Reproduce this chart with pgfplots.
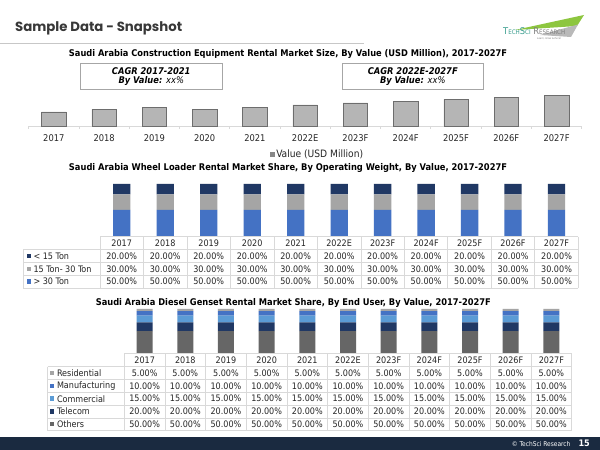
\documentclass[border=0pt]{standalone}
\usepackage{pgfplots}
\pgfplotsset{compat=1.18}
\usepackage{fontspec}
\setmainfont{DejaVu Sans Condensed}
\newfontfamily\poppins{Poppins}
\definecolor{navy}{HTML}{203864}
\definecolor{mblue}{HTML}{4472C4}
\definecolor{lblue}{HTML}{5B9BD5}
\definecolor{mgray}{HTML}{A5A5A5}
\definecolor{dgray}{HTML}{666666}
\definecolor{foot}{HTML}{1A2A40}
\definecolor{gridc}{HTML}{D9D9D9}
\definecolor{txt}{HTML}{262626}
\definecolor{bargray}{HTML}{B5B5B5}
\definecolor{logogreen}{HTML}{8DC63F}
\definecolor{logoteal}{HTML}{3A9E8F}
\newcommand{\tf}{\fontsize{9}{10}\selectfont}
\begin{document}
\begin{tikzpicture}[font=\tf]
\useasboundingbox (0,0) rectangle (600bp,450bp);
\fill[white] (0,0) rectangle (600bp,450bp);

% ---------- header ----------
\node[anchor=base west, inner sep=0, text=black!78] at (15bp,418.3bp)
  {\resizebox{167bp}{!}{\poppins\bfseries Sample Data - Snapshot}};
\draw[black!22, line width=0.8bp] (0,406.7bp) -- (364bp,406.7bp);

% logo
\fill[logogreen] (515bp,420bp) -- (584bp,435bp) -- (577bp,424bp) -- cycle;
\fill[gray!55] (540bp,415bp) -- (578bp,425.5bp) -- (571bp,413bp) -- cycle;
\node[anchor=base west, inner sep=0] at (503bp,415.5bp)
  {\resizebox{62bp}{!}{\color{logoteal}T{\fontsize{6}{6}\selectfont ECH}S{\fontsize{6}{6}\selectfont CI} \color{gray}R{\fontsize{6}{6}\selectfont ESEARCH}}};
\node[anchor=base west, inner sep=0, text=gray] at (537bp,410bp)
  {\fontsize{2.6}{3}\selectfont\itshape Learn, Grow \& Excel};

% ---------- chart titles ----------
\node[inner sep=0, text=black] at (288bp,396bp)
  {\resizebox{438bp}{!}{\bfseries Saudi Arabia Construction Equipment Rental Market Size, By Value (USD Million), 2017-2027F}};
\node[inner sep=0, text=black] at (288bp,281.6bp)
  {\resizebox{438bp}{!}{\bfseries Saudi Arabia Wheel Loader Rental Market Share, By Operating Weight, By Value, 2017-2027F}};
\node[inner sep=0, text=black] at (293.3bp,147.4bp)
  {\resizebox{395bp}{!}{\bfseries Saudi Arabia Diesel Genset Rental Market Share, By End User, By Value, 2017-2027F}};

% ---------- CAGR boxes ----------
\draw[black!35, line width=0.8bp, fill=white] (80.5bp,360.7bp) rectangle (222bp,386.7bp);
\draw[black!35, line width=0.8bp, fill=white] (342.5bp,360.7bp) rectangle (483bp,386.7bp);
\node[inner sep=0, text=black] at (151.25bp,379bp) {\fontsize{9.3}{10}\selectfont\bfseries\itshape CAGR 2017-2021};
\node[inner sep=0, text=black] at (151.25bp,369bp) {\fontsize{9.3}{10}\selectfont\bfseries\itshape By Value: \mdseries xx\%};
\node[inner sep=0, text=black] at (412.75bp,379bp) {\fontsize{9.3}{10}\selectfont\bfseries\itshape CAGR 2022E-2027F};
\node[inner sep=0, text=black] at (412.75bp,369bp) {\fontsize{9.3}{10}\selectfont\bfseries\itshape By Value: \mdseries xx\%};

% ---------- chart 1 ----------
\begin{axis}[at={(28.7bp,324bp)}, anchor=south west, scale only axis,
  width=553bp, height=32bp, xmin=-0.5, xmax=10.5, ymin=0, ymax=32,
  clip=false, axis y line=none, axis x line*=bottom,
  x axis line style={gridc, line width=0.8bp},
  ybar, bar width=24.5bp,
  xtick={0,...,10},
  xticklabels={2017,2018,2019,2020,2021,2022E,2023F,2024F,2025F,2026F,2027F},
  major tick length=0pt,
  minor xtick={-0.5,0.5,...,10.5}, minor tick length=3bp, tick align=outside,
  minor tick style={gridc, line width=0.8bp},
  xticklabel style={font=\fontsize{9.3}{10}\selectfont, text=txt, yshift=-5.5bp},
  legend style={at={(0.4363,0)}, anchor=west, yshift=-28bp, draw=none,
    font=\fontsize{10.2}{11}\selectfont, text=txt, inner sep=0pt},
  legend image code/.code={\fill[bargray!75!black] (0bp,-1.9bp) rectangle (3.6bp,1.9bp);},
]
\addplot[fill=bargray, draw=bargray!60!black, line width=0.5bp]
  coordinates {(0,14) (1,16.7) (2,18.3) (3,16.7) (4,18.7) (5,21) (6,23) (7,24.7) (8,26.7) (9,28.7) (10,30.3)};
\addlegendentry{Value (USD Million)}
\end{axis}

% ---------- chart 2 ----------
\begin{axis}[at={(100bp,214bp)}, anchor=south west, scale only axis,
  width=478.3bp, height=52bp, xmin=-0.5, xmax=10.5, ymin=0, ymax=100,
  hide axis, clip=false, ybar stacked, bar width=17.3bp]
\addplot[fill=mblue, draw=none] coordinates {(0,50) (1,50) (2,50) (3,50) (4,50) (5,50) (6,50) (7,50) (8,50) (9,50) (10,50)};
\addplot[fill=mgray, draw=none] coordinates {(0,30) (1,30) (2,30) (3,30) (4,30) (5,30) (6,30) (7,30) (8,30) (9,30) (10,30)};
\addplot[fill=navy, draw=none] coordinates {(0,20) (1,20) (2,20) (3,20) (4,20) (5,20) (6,20) (7,20) (8,20) (9,20) (10,20)};
\end{axis}

% table 2
\begin{scope}[gridc, line width=0.7bp]
\draw (100bp,213.3bp) -- (578.3bp,213.3bp);
\foreach \yy in {200.7,187.7,174.7,162} \draw (23.3bp,\yy bp) -- (578.3bp,\yy bp);
\foreach \k in {0,...,11} {\pgfmathsetmacro\xx{100+43.48*\k}\draw (\xx bp,213.3bp) -- (\xx bp,162bp);}
\draw (23.3bp,200.7bp) -- (23.3bp,162bp);
\end{scope}
\foreach \i/\lab in {0/2017,1/2018,2/2019,3/2020,4/2021,5/2022E,6/2023F,7/2024F,8/2025F,9/2026F,10/2027F} {
  \pgfmathsetmacro\xx{100+43.48*(\i+0.5)}
  \node[text=txt, inner sep=0] at (\xx bp,207bp) {\lab};
  \node[text=txt, inner sep=0] at (\xx bp,194.2bp) {20.00\%};
  \node[text=txt, inner sep=0] at (\xx bp,181.2bp) {30.00\%};
  \node[text=txt, inner sep=0] at (\xx bp,168.35bp) {50.00\%};
}
\foreach \yy/\c/\lab in {194.2/navy/{< 15 Ton}, 181.2/mgray/{15 Ton- 30 Ton}, 168.35/mblue/{> 30 Ton}} {
  \fill[\c] (26.5bp,\yy bp-2.2bp) rectangle (30.9bp,\yy bp+2.2bp);
  \node[text=txt, inner sep=0, anchor=west] at (33.3bp,\yy bp) {\lab};
}

% ---------- chart 3 ----------
\begin{axis}[at={(124.3bp,96.7bp)}, anchor=south west, scale only axis,
  width=447.4bp, height=44.3bp, xmin=-0.5, xmax=10.5, ymin=0, ymax=100,
  hide axis, clip=false, ybar stacked, bar width=16bp]
\addplot[fill=dgray, draw=none] coordinates {(0,50) (1,50) (2,50) (3,50) (4,50) (5,50) (6,50) (7,50) (8,50) (9,50) (10,50)};
\addplot[fill=navy, draw=none] coordinates {(0,20) (1,20) (2,20) (3,20) (4,20) (5,20) (6,20) (7,20) (8,20) (9,20) (10,20)};
\addplot[fill=lblue, draw=none] coordinates {(0,15) (1,15) (2,15) (3,15) (4,15) (5,15) (6,15) (7,15) (8,15) (9,15) (10,15)};
\addplot[fill=mblue, draw=none] coordinates {(0,10) (1,10) (2,10) (3,10) (4,10) (5,10) (6,10) (7,10) (8,10) (9,10) (10,10)};
\addplot[fill=mgray, draw=none] coordinates {(0,5) (1,5) (2,5) (3,5) (4,5) (5,5) (6,5) (7,5) (8,5) (9,5) (10,5)};
\end{axis}

% table 3
\begin{scope}[gridc, line width=0.7bp]
\draw (124.3bp,96.7bp) -- (571.7bp,96.7bp);
\foreach \yy in {83.3,70.5,57.7,44.9,32.1,19.3} \draw (47.7bp,\yy bp) -- (571.7bp,\yy bp);
\foreach \k in {0,...,11} {\pgfmathsetmacro\xx{124.3+40.67*\k}\draw (\xx bp,96.7bp) -- (\xx bp,19.3bp);}
\draw (47.7bp,83.3bp) -- (47.7bp,19.3bp);
\end{scope}
\foreach \i/\lab in {0/2017,1/2018,2/2019,3/2020,4/2021,5/2022E,6/2023F,7/2024F,8/2025F,9/2026F,10/2027F} {
  \pgfmathsetmacro\xx{124.3+40.67*(\i+0.5)}
  \node[text=txt, inner sep=0] at (\xx bp,90bp) {\lab};
  \node[text=txt, inner sep=0] at (\xx bp,76.9bp) {5.00\%};
  \node[text=txt, inner sep=0] at (\xx bp,64.1bp) {10.00\%};
  \node[text=txt, inner sep=0] at (\xx bp,51.3bp) {15.00\%};
  \node[text=txt, inner sep=0] at (\xx bp,38.5bp) {20.00\%};
  \node[text=txt, inner sep=0] at (\xx bp,25.7bp) {50.00\%};
}
\foreach \yy/\c/\lab in {76.9/mgray/Residential, 64.1/mblue/Manufacturing, 51.3/lblue/Commercial, 38.5/navy/Telecom, 25.7/dgray/Others} {
  \fill[\c] (49.9bp,\yy bp-2.2bp) rectangle (54.3bp,\yy bp+2.2bp);
  \node[text=txt, inner sep=0, anchor=west] at (56.8bp,\yy bp) {\lab};
}

% ---------- footer ----------
\fill[foot] (0,0) rectangle (600bp,13.3bp);
\node[anchor=west, inner sep=0, text=white] at (511.7bp,6.3bp) {\fontsize{6.6}{7}\selectfont\textcopyright\ TechSci Research};
\node[inner sep=0, text=white] at (584.2bp,6.6bp) {\fontsize{9}{10}\selectfont\bfseries 15};
\end{tikzpicture}
\end{document}
